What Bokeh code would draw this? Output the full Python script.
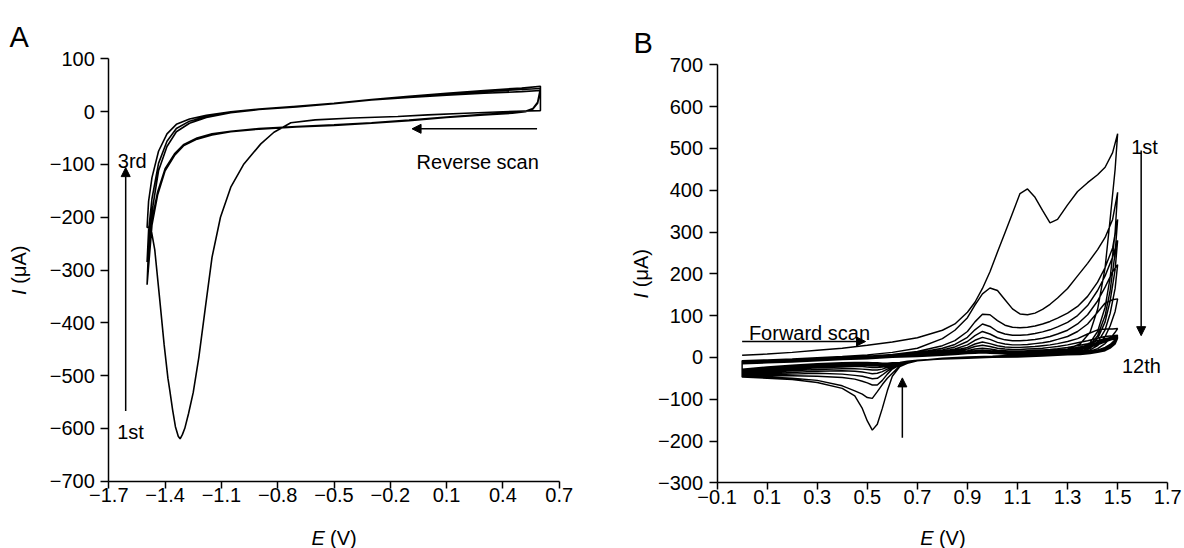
import math
from bokeh.plotting import figure
from bokeh.models import Label, Arrow, NormalHead, FixedTicker, Range1d, LinearAxis
from bokeh.layouts import row
from bokeh.embed import file_html
from bokeh.resources import INLINE

FONT = "Liberation Sans"

# ---------------- Panel A data ----------------
A_xticks = [-1.7, -1.4, -1.1, -0.8, -0.5, -0.2, 0.1, 0.4, 0.7]
A_xtick_labels = ["\u22121.7", "\u22121.4", "\u22121.1", "\u22120.8", "\u22120.5", "\u22120.2", "0.1", "0.4", "0.7"]
A_yticks = [100, 0, -100, -200, -300, -400, -500, -600, -700]
A_ytick_labels = ["100", "0", "\u2212100", "\u2212200", "\u2212300", "\u2212400", "\u2212500", "\u2212600", "\u2212700"]

A_top_x = [0.6, 0.5, 0.3, 0.1, -0.1, -0.3, -0.5, -0.7, -0.9, -1.05, -1.18, -1.27, -1.34, -1.39, -1.435, -1.47, -1.488, -1.496]
A_top1_y = [40, 38, 35, 31, 27, 22, 16, 10, 5, 0, -7, -14, -24, -42, -75, -125, -170, -219]
A_top2_y = [48, 45, 40, 35, 29, 23, 16, 10, 4, -1, -9, -18, -32, -56, -98, -165, -225, -285]
A_top3_y = [44, 42, 38, 33, 28, 22, 15, 9, 4, -2, -11, -22, -38, -66, -112, -190, -255, -328]

A_peak_x = [-1.496, -1.475, -1.455, -1.43, -1.405, -1.385, -1.375, -1.36, -1.345, -1.33, -1.32, -1.308,
            -1.295, -1.275, -1.25, -1.22, -1.185, -1.15, -1.105, -1.05, -0.98, -0.89, -0.82, -0.77,
            -0.73, -0.6, -0.4, -0.16, 0.0, 0.2, 0.4, 0.6]
A_peak_y = [-219, -222, -262, -351, -442, -505, -528, -565, -597, -615, -620, -612,
            -600, -572, -532, -465, -370, -276, -200, -143, -99, -61, -39, -29,
            -21, -15.5, -12, -9, -6, -3, 0, 2]

A_low_x = [-1.496, -1.47, -1.44, -1.4, -1.35, -1.3, -1.23, -1.15, -1.05, -0.9, -0.7, -0.5, -0.3, -0.1,
           0.1, 0.3, 0.45, 0.52, 0.56, 0.585, 0.6]
A_low2_y = [-285, -205, -152, -108, -80, -62, -50, -42, -37, -32, -28, -25, -21, -16, -10, -5, -2, 1, 6, 18, 44]
A_low3_y = [-328, -215, -158, -112, -83, -64, -52, -44, -38, -33, -29, -26, -22, -17, -11, -6, -3, 0, 5, 16, 40]

# ---------------- Panel B data ----------------
B_xticks = [-0.1, 0.1, 0.3, 0.5, 0.7, 0.9, 1.1, 1.3, 1.5, 1.7]
B_xtick_labels = ["\u22120.1", "0.1", "0.3", "0.5", "0.7", "0.9", "1.1", "1.3", "1.5", "1.7"]
B_yticks = [700, 600, 500, 400, 300, 200, 100, 0, -100, -200, -300]
B_ytick_labels = ["700", "600", "500", "400", "300", "200", "100", "0", "\u2212100", "\u2212200", "\u2212300"]

B_fwd_x = [0.0, 0.1, 0.2, 0.3, 0.4, 0.5, 0.6, 0.7, 0.8, 0.85, 0.9, 0.93, 0.96, 0.99, 1.02, 1.05, 1.08,
           1.11, 1.14, 1.17, 1.2, 1.23, 1.26, 1.3, 1.34, 1.38, 1.42, 1.45, 1.48, 1.5]
B_fwd_1 = [5, 8, 12, 17, 22, 29, 37, 47, 65, 80, 108, 132, 165, 205, 252, 298, 345, 392, 403, 383, 352, 322, 330, 365, 397, 418, 437, 455, 490, 535]
B_fwd_2 = [-8, -6, -4, -1, 2, 6, 12, 22, 45, 65, 95, 125, 152, 166, 160, 138, 116, 104, 102, 106, 115, 127, 142, 165, 195, 225, 258, 287, 330, 395]
B_fwd_3 = [-10, -8, -5, -3, 0, 3, 7, 14, 28, 40, 62, 85, 103, 102, 88, 77, 72, 71, 72, 75, 80, 86, 94, 106, 122, 146, 180, 215, 262, 330]
B_fwd_4 = [-11, -9, -6, -4, -1, 2, 5, 11, 22, 31, 48, 66, 80, 74, 62, 56, 53, 53, 54, 57, 61, 66, 73, 84, 100, 124, 160, 195, 240, 280]
B_fwd_5 = [-12, -10, -7, -5, -2, 1, 4, 9, 18, 25, 38, 52, 62, 56, 47, 42, 40, 40, 41, 43, 46, 50, 56, 65, 80, 102, 135, 168, 205, 222]
B_fwd_6 = [-12, -10, -8, -5, -3, 0, 3, 7, 15, 20, 30, 41, 48, 43, 36, 32, 30, 30, 31, 33, 35, 38, 43, 50, 62, 80, 108, 130, 138, 140]
B_fwd_7 = [-13, -11, -8, -6, -3, 0, 2, 6, 12, 17, 24, 32, 37, 33, 28, 25, 24, 24, 25, 26, 28, 30, 33, 38, 45, 56, 66, 68, 68, 69]
B_fwd_8 = [-13, -11, -9, -6, -4, -1, 2, 5, 10, 14, 20, 26, 29, 26, 22, 20, 19, 19, 20, 21, 22, 24, 26, 30, 35, 40, 46, 50, 52, 53]
B_fwd_9 = [-14, -12, -9, -7, -4, -1, 1, 4, 8, 12, 16, 20, 22, 20, 17, 16, 15, 15, 16, 17, 18, 19, 21, 24, 28, 33, 40, 45, 49, 51]
B_fwd_10 = [-14, -12, -10, -7, -5, -2, 1, 3, 7, 10, 13, 16, 17, 16, 14, 13, 12, 12, 13, 14, 15, 16, 18, 20, 24, 29, 36, 42, 47, 49]
B_fwd_11 = [-15, -13, -10, -8, -5, -2, 0, 3, 6, 8, 11, 13, 14, 13, 11, 10, 10, 10, 11, 11, 12, 13, 15, 17, 21, 26, 33, 39, 45, 48]
B_fwd_12 = [-15, -13, -11, -8, -5, -3, 0, 2, 5, 7, 9, 10, 11, 10, 9, 8, 8, 8, 9, 9, 10, 11, 12, 14, 18, 23, 30, 37, 43, 46]

B_rev_x = [1.5, 1.49, 1.47, 1.45, 1.42, 1.39, 1.35, 1.3, 1.2, 1.1, 1.0, 0.9, 0.8, 0.7, 0.66, 0.63, 0.6,
           0.58, 0.56, 0.54, 0.52, 0.5, 0.48, 0.45, 0.4, 0.3, 0.2, 0.1, 0.0]
B_rev_1 = [535, 450, 330, 215, 115, 60, 32, 20, 11, 6, 3, 1, -2, -8, -14, -22, -45, -80, -122, -160, -174, -152, -122, -92, -74, -60, -53, -50, -47]
B_rev_2 = [395, 300, 190, 120, 62, 35, 22, 15, 9, 5, 2, 0, -3, -8, -13, -20, -38, -50, -65, -82, -98, -96, -88, -80, -68, -55, -50, -47, -45]
B_rev_3 = [330, 250, 160, 100, 52, 30, 20, 14, 8, 4, 2, 0, -3, -8, -12, -18, -28, -40, -55, -66, -66, -61, -57, -52, -48, -45, -44, -44, -44]
B_rev_4 = [280, 210, 135, 85, 45, 27, 18, 13, 7, 4, 1, -1, -3, -8, -12, -17, -25, -33, -42, -50, -51, -48, -45, -43, -40, -38, -40, -42, -43]
B_rev_5 = [222, 165, 105, 66, 36, 22, 15, 11, 6, 3, 1, -1, -3, -8, -11, -16, -22, -28, -34, -38, -39, -37, -35, -33, -32, -33, -36, -39, -42]
B_rev_6 = [140, 110, 75, 50, 28, 18, 13, 10, 6, 3, 1, -1, -3, -7, -10, -15, -20, -24, -28, -30, -30, -29, -28, -27, -27, -29, -32, -36, -40]
B_rev_7 = [69, 60, 45, 33, 21, 15, 11, 9, 5, 3, 1, -1, -3, -7, -10, -14, -18, -21, -23, -24, -24, -23, -22, -22, -23, -25, -29, -33, -38]
B_rev_8 = [53, 42, 31, 24, 17, 13, 10, 8, 5, 3, 1, -1, -3, -7, -10, -14, -17, -19, -20, -20, -20, -19, -19, -19, -20, -23, -27, -31, -36]
B_rev_9 = [51, 39, 28, 21, 15, 12, 9, 7, 4, 2, 0, -1, -3, -7, -10, -13, -16, -17, -18, -18, -18, -17, -17, -17, -18, -21, -25, -29, -34]
B_rev_10 = [49, 36, 26, 19, 14, 11, 8, 7, 4, 2, 0, -1, -3, -7, -10, -13, -15, -16, -16, -16, -16, -15, -15, -15, -16, -19, -23, -27, -32]
B_rev_11 = [48, 34, 24, 18, 13, 10, 8, 6, 4, 2, 0, -2, -4, -7, -10, -12, -14, -15, -15, -15, -14, -14, -13, -13, -14, -17, -21, -25, -30]
B_rev_12 = [46, 32, 22, 16, 12, 9, 7, 6, 3, 1, 0, -2, -4, -7, -9, -12, -13, -14, -14, -13, -13, -12, -12, -12, -13, -15, -19, -23, -28]

B_fwd_all = [B_fwd_1, B_fwd_2, B_fwd_3, B_fwd_4, B_fwd_5, B_fwd_6, B_fwd_7, B_fwd_8, B_fwd_9, B_fwd_10, B_fwd_11, B_fwd_12]
B_rev_all = [B_rev_1, B_rev_2, B_rev_3, B_rev_4, B_rev_5, B_rev_6, B_rev_7, B_rev_8, B_rev_9, B_rev_10, B_rev_11, B_rev_12]
for f in B_fwd_all:
    assert len(f) == len(B_fwd_x)
for r in B_rev_all:
    assert len(r) == len(B_rev_x)

# ---------------- Annotations (data coordinates) ----------------
A_texts = [("3rd", -1.652, -94), ("1st", -1.655, -607), ("Reverse scan", -0.06, -96)]
A_arrows = [(-1.61, -567, -1.61, -106), (0.582, -32.5, -0.084, -32.5)]
B_texts = [("Forward scan", 0.027, 58), ("1st", 1.554, 504), ("12th", 1.517, -20)]
B_arrows = [(0.0, 38, 0.493, 38), (1.594, 495, 1.594, 52), (0.64, -192, 0.64, -49)]

# ---------------- Layout (pixels inside each canvas) ----------------
W_A, W_B, H = 600, 584, 548
FRAME_A = dict(left=108.3, right=558.7, top=58.4, bottom=480.6)
FRAME_B = dict(left=116.6, right=567.2, top=64.3, bottom=482.3)


def ranges(frame, w, h, x0, x1, y0, y1):
    kx = (frame["right"] - frame["left"]) / (x1 - x0)
    ky = (frame["bottom"] - frame["top"]) / (y1 - y0)
    xs = x0 - frame["left"] / kx
    xe = x1 + (w - frame["right"]) / kx
    ye = y1 + frame["top"] / ky
    ys = y0 - (h - frame["bottom"]) / ky
    return Range1d(xs, xe), Range1d(ys, ye)


def make_fig(w, frame, xlim, ylim, xt, xl, yt, yl):
    xr, yr = ranges(frame, w, H, xlim[0], xlim[1], ylim[0], ylim[1])
    p = figure(width=w, height=H, output_backend="svg", toolbar_location=None,
               x_range=xr, y_range=yr, x_axis_location=None, y_axis_location=None,
               min_border=0)
    p.grid.visible = False
    p.outline_line_color = None
    p.background_fill_color = "white"
    p.border_fill_color = "white"
    xa = LinearAxis(fixed_location=ylim[0], bounds=xlim, ticker=FixedTicker(ticks=xt),
                    major_label_overrides={t: l for t, l in zip(xt, xl)})
    ya = LinearAxis(fixed_location=xlim[0], bounds=ylim, ticker=FixedTicker(ticks=yt),
                    major_label_overrides={t: l for t, l in zip(yt, yl)})
    for ax in (xa, ya):
        ax.axis_line_color = "black"
        ax.axis_line_width = 1.5
        ax.major_tick_line_color = "black"
        ax.major_tick_line_width = 1.5
        ax.major_tick_in = 0
        ax.minor_tick_line_color = None
        ax.major_label_text_font = FONT
        ax.major_label_text_font_size = "20px"
        ax.major_label_text_color = "black"
    xa.major_tick_out = 7
    xa.major_label_standoff = 0
    ya.major_tick_out = 8
    ya.major_label_standoff = 6
    p.add_layout(xa, "below")
    p.add_layout(ya, "left")
    return p


def txt(p, s, x, y, size="20px", style_="normal", align="left", baseline="alphabetic", angle=0.0):
    p.add_layout(Label(x=x, y=y, text=s, text_font=FONT, text_font_size=size,
                       text_font_style=style_, text_align=align, text_baseline=baseline,
                       text_color="black", angle=angle))


def arrow(p, x0, y0, x1, y1):
    p.add_layout(Arrow(end=NormalHead(size=9, fill_color="black", line_color="black", line_width=1),
                       x_start=x0, y_start=y0, x_end=x1, y_end=y1,
                       line_color="black", line_width=1.5))


# ---------------- Figure A ----------------
pA = make_fig(W_A, FRAME_A, (-1.7, 0.7), (-700, 100), A_xticks, A_xtick_labels, A_yticks, A_ytick_labels)
A_x = A_top_x + A_peak_x + A_top_x + A_low_x + A_top_x + A_low_x
A_y = A_top1_y + A_peak_y + A_top2_y + A_low2_y + A_top3_y + A_low3_y
pA.line(A_x, A_y, line_color="black", line_width=1.6)
for s, x, y in A_texts:
    txt(pA, s, x, y)
for a in A_arrows:
    arrow(pA, *a)
txt(pA, "A", -2.229, 141.5, size="29px")
txt(pA, "I", -2.176, -337, size="20px", style_="italic", align="right", baseline="middle", angle=math.pi / 2)
txt(pA, "(\u03bcA)", -2.176, -326, size="20px", align="left", baseline="middle", angle=math.pi / 2)
txt(pA, "E", -0.549, -808, size="20px", style_="italic", align="right")
txt(pA, "(V)", -0.521, -808, size="20px", align="left")

# ---------------- Figure B ----------------
pB = make_fig(W_B, FRAME_B, (-0.1, 1.7), (-300, 700), B_xticks, B_xtick_labels, B_yticks, B_ytick_labels)
B_x, B_y = [], []
for f, r in zip(B_fwd_all, B_rev_all):
    B_x += B_fwd_x + B_rev_x
    B_y += f + r
pB.line(B_x, B_y, line_color="black", line_width=1.45)
for s, x, y in B_texts:
    txt(pB, s, x, y)
for a in B_arrows:
    arrow(pB, *a)
txt(pB, "B", -0.434, 752, size="29px")
txt(pB, "I", -0.402, 154, size="20px", style_="italic", align="right", baseline="middle", angle=math.pi / 2)
txt(pB, "(\u03bcA)", -0.402, 168, size="20px", align="left", baseline="middle", angle=math.pi / 2)
txt(pB, "E", 0.765, -433, size="20px", style_="italic", align="right")
txt(pB, "(V)", 0.786, -433, size="20px", align="left")

layout = row(pA, pB)
open("out.html", "w").write(file_html(layout, INLINE))
